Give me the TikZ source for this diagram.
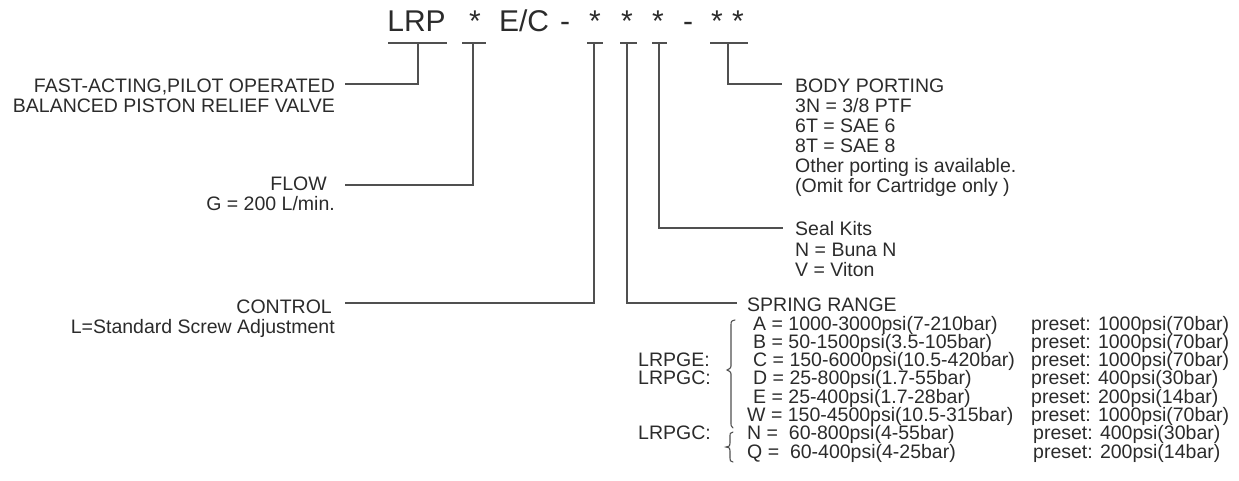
\documentclass[tikz,border=0pt]{standalone}
\usepackage{fontspec}
\setmainfont{Liberation Sans}
\definecolor{ink}{HTML}{2B2B2B}
\definecolor{lin}{HTML}{505050}
\begin{document}
\begin{tikzpicture}[x=1pt,y=-1pt,
  txt/.style={font=\fontsize{19.5}{20}\selectfont, inner sep=0pt, text=ink},
  tw/.style={txt, anchor=base west},
  te/.style={txt, anchor=base east},
  hdr/.style={font=\fontsize{30}{30}\selectfont, inner sep=0pt, text=ink, anchor=base},
  ln/.style={draw=lin, line width=1.1pt},
  brace/.style={draw=lin, line width=1.1pt, line cap=round}]
\useasboundingbox (0,0) rectangle (1239,481);
% header
\node[hdr] (lrp) at (416.5,32) {LRP};
\node[hdr] (s1) at (475,32) {*};
\node[hdr] (ec) at (524,32) {E/C};
\node[hdr] (d1) at (565,32) {-};
\node[hdr] (s2) at (595,32) {*};
\node[hdr] (s3) at (627,32) {*};
\node[hdr] (s4) at (658,32) {*};
\node[hdr] (d2) at (688,32) {-};
\node[hdr] (s5) at (717,32) {*};
\node[hdr] (s6) at (738,32) {*};
% underlines
\draw[ln] (388,43) -- (447,43);
\draw[ln] (462,43) -- (486,43);
\draw[ln] (587,43) -- (603,43);
\draw[ln] (620,43) -- (637,43);
\draw[ln] (652,43) -- (667,43);
\draw[ln] (710,43) -- (748,43);
% stem tops
\coordinate (t1) at (418,43);
\coordinate (t2) at (473,43);
\coordinate (t3) at (594,43);
\coordinate (t4) at (627,43);
\coordinate (t5) at (659,43);
\coordinate (t6) at (728,43);
% line ends
\coordinate (e1) at (345,84);
\coordinate (e2) at (345,185);
\coordinate (e3) at (345,303);
\coordinate (e4) at (737,303);
\coordinate (e5) at (783,228);
\coordinate (e6) at (782,84);
\draw[ln] (t1) |- (e1);
\draw[ln] (t2) |- (e2);
\draw[ln] (t3) |- (e3);
\draw[ln] (t4) |- (e4);
\draw[ln] (t5) |- (e5);
\draw[ln] (t6) |- (e6);
% left texts
\node[te] (fast1) at (335,93) {FAST-ACTING,PILOT OPERATED};
\node[te] (fast2) at (335,113) {BALANCED PISTON RELIEF VALVE};
\node[te] (flow1) at (327,191) {FLOW};
\node[te] (flow2) at (335,211) {G = 200 L/min.};
\node[te] (ctl1) at (332,313) {CONTROL};
\node[te] (ctl2) at (335,333) {L=Standard Screw Adjustment};
% body porting
\node[tw] (bp0) at (795,93) {BODY PORTING};
\node[tw] (bp1) at (795,113) {3N = 3/8 PTF};
\node[tw] (bp2) at (795,133) {6T = SAE 6};
\node[tw] (bp3) at (795,153) {8T = SAE 8};
\node[tw] (bp4) at (795,173) {Other porting is available.};
\node[tw] (bp5) at (795,193) {(Omit for Cartridge only )};
% seal kits
\node[tw] (sk0) at (795,235) {Seal Kits};
\node[tw] (sk1) at (795,256) {N = Buna N};
\node[tw] (sk2) at (795,276) {V = Viton};
% spring range
\node[tw] (sr0) at (747,311) {SPRING RANGE};
\node[tw] (ra) at (753,330) {A = 1000-3000psi(7-210bar)};
\node[tw] (rb) at (753,348.3) {B = 50-1500psi(3.5-105bar)};
\node[tw] (rc) at (753,366.6) {C = 150-6000psi(10.5-420bar)};
\node[tw] (rd) at (753,384.9) {D = 25-800psi(1.7-55bar)};
\node[tw] (re) at (753,403.2) {E = 25-400psi(1.7-28bar)};
\node[tw] (rw) at (747,421.5) {W = 150-4500psi(10.5-315bar)};
\node[tw] (rn) at (747,439.8) {N = \ 60-800psi(4-55bar)};
\node[tw] (rq) at (747,458.1) {Q = \ 60-400psi(4-25bar)};
\node[tw] (pa) at (1031,330) {preset: 1000psi(70bar)};
\node[tw] (pb) at (1031,348.3) {preset: 1000psi(70bar)};
\node[tw] (pc) at (1031,366.6) {preset: 1000psi(70bar)};
\node[tw] (pd) at (1031,384.9) {preset: 400psi(30bar)};
\node[tw] (pe) at (1031,403.2) {preset: 200psi(14bar)};
\node[tw] (pw) at (1031,421.5) {preset: 1000psi(70bar)};
\node[tw] (pn) at (1033,439.8) {preset: 400psi(30bar)};
\node[tw] (pq) at (1033,458.1) {preset: 200psi(14bar)};
\node[tw] (g1) at (638,366.6) {LRPGE:};
\node[tw] (g2) at (638,384.9) {LRPGC:};
\node[tw] (g3) at (638,439.8) {LRPGC:};
% braces
\draw[brace] (735,320) .. controls (731,321) .. (731,326) -- (731,364)
  .. controls (731,368) .. (727,370) .. controls (731,372) .. (731,376)
  -- (731,422) .. controls (731,426) .. (733,428);
\draw[brace] (733,432) .. controls (730,433) .. (730,437) -- (730,443)
  .. controls (730,446) .. (726,447) .. controls (730,448) .. (730,451)
  -- (730,458) .. controls (730,461) .. (733,462);
\end{tikzpicture}
\end{document}
